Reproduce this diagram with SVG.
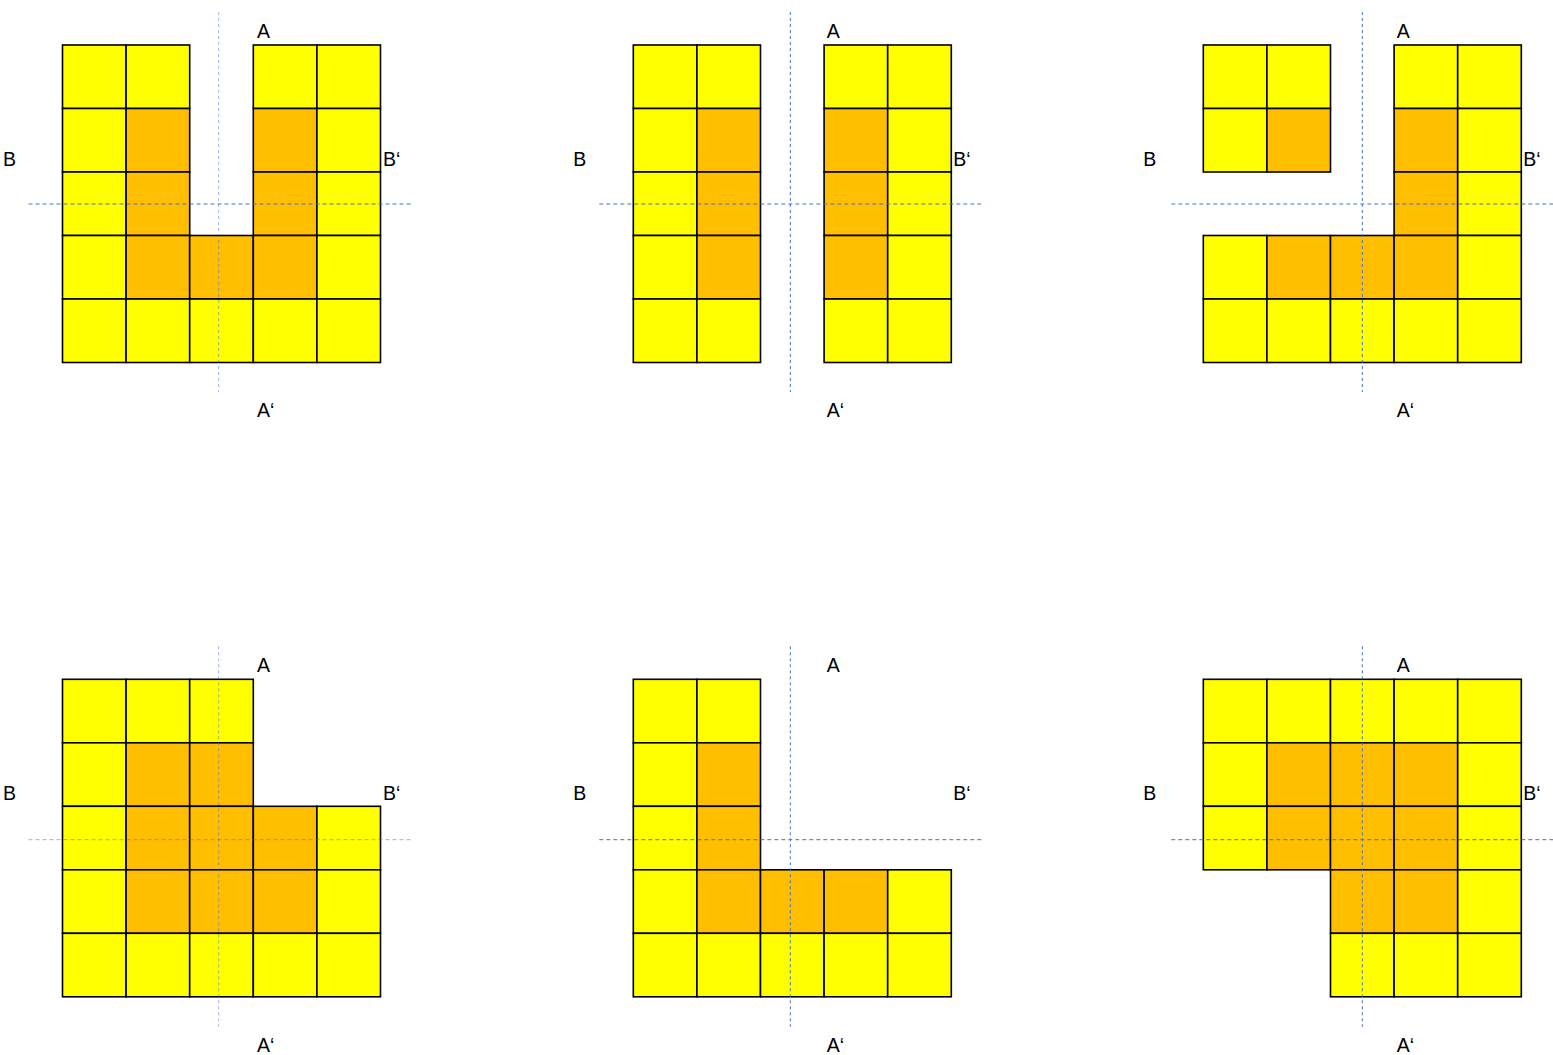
<svg xmlns="http://www.w3.org/2000/svg" width="1553" height="1055" viewBox="0 0 1553 1055">
<style>
.y{fill:#FFFF00;stroke:#000;stroke-width:1.6}
.o{fill:#FFBF00;stroke:#000;stroke-width:1.6}
.t{font-family:"Liberation Sans",Arial,sans-serif;font-size:19.5px;fill:#000}
.dv{stroke:#4472C4;stroke-width:1;stroke-dasharray:3 3;fill:none}
.dh{stroke:#4472C4;stroke-width:1;stroke-dasharray:4 3;fill:none}
.f{opacity:0.55}
</style>
<rect width="1553" height="1055" fill="#fff"/>

<g id="panel1" transform="translate(62.5,45)">
<rect class="y" x="0" y="0" width="63.6" height="63.5"/>
<rect class="y" x="63.6" y="0" width="63.6" height="63.5"/>
<rect class="y" x="190.8" y="0" width="63.6" height="63.5"/>
<rect class="y" x="254.4" y="0" width="63.6" height="63.5"/>
<rect class="y" x="0" y="63.5" width="63.6" height="63.5"/>
<rect class="o" x="63.6" y="63.5" width="63.6" height="63.5"/>
<rect class="o" x="190.8" y="63.5" width="63.6" height="63.5"/>
<rect class="y" x="254.4" y="63.5" width="63.6" height="63.5"/>
<rect class="y" x="0" y="127" width="63.6" height="63.5"/>
<rect class="o" x="63.6" y="127" width="63.6" height="63.5"/>
<rect class="o" x="190.8" y="127" width="63.6" height="63.5"/>
<rect class="y" x="254.4" y="127" width="63.6" height="63.5"/>
<rect class="y" x="0" y="190.5" width="63.6" height="63.5"/>
<rect class="o" x="63.6" y="190.5" width="63.6" height="63.5"/>
<rect class="o" x="127.2" y="190.5" width="63.6" height="63.5"/>
<rect class="o" x="190.8" y="190.5" width="63.6" height="63.5"/>
<rect class="y" x="254.4" y="190.5" width="63.6" height="63.5"/>
<rect class="y" x="0" y="254" width="63.6" height="63.5"/>
<rect class="y" x="63.6" y="254" width="63.6" height="63.5"/>
<rect class="y" x="127.2" y="254" width="63.6" height="63.5"/>
<rect class="y" x="190.8" y="254" width="63.6" height="63.5"/>
<rect class="y" x="254.4" y="254" width="63.6" height="63.5"/>
<line class="dv f" x1="156.2" y1="-33" x2="156.2" y2="347"/>
<line class="dh" x1="-34" y1="159" x2="351" y2="159"/>
<text class="t" x="194.5" y="-7">A</text>
<text class="t" x="194.5" y="372">A‘</text>
<text class="t" x="-59.5" y="121">B</text>
<text class="t" x="320.5" y="121">B‘</text>
</g>

<g id="panel2" transform="translate(633.3,45)">
<rect class="y" x="0" y="0" width="63.6" height="63.5"/>
<rect class="y" x="63.6" y="0" width="63.6" height="63.5"/>
<rect class="y" x="190.8" y="0" width="63.6" height="63.5"/>
<rect class="y" x="254.4" y="0" width="63.6" height="63.5"/>
<rect class="y" x="0" y="63.5" width="63.6" height="63.5"/>
<rect class="o" x="63.6" y="63.5" width="63.6" height="63.5"/>
<rect class="o" x="190.8" y="63.5" width="63.6" height="63.5"/>
<rect class="y" x="254.4" y="63.5" width="63.6" height="63.5"/>
<rect class="y" x="0" y="127" width="63.6" height="63.5"/>
<rect class="o" x="63.6" y="127" width="63.6" height="63.5"/>
<rect class="o" x="190.8" y="127" width="63.6" height="63.5"/>
<rect class="y" x="254.4" y="127" width="63.6" height="63.5"/>
<rect class="y" x="0" y="190.5" width="63.6" height="63.5"/>
<rect class="o" x="63.6" y="190.5" width="63.6" height="63.5"/>
<rect class="o" x="190.8" y="190.5" width="63.6" height="63.5"/>
<rect class="y" x="254.4" y="190.5" width="63.6" height="63.5"/>
<rect class="y" x="0" y="254" width="63.6" height="63.5"/>
<rect class="y" x="63.6" y="254" width="63.6" height="63.5"/>
<rect class="y" x="190.8" y="254" width="63.6" height="63.5"/>
<rect class="y" x="254.4" y="254" width="63.6" height="63.5"/>
<line class="dv" x1="157" y1="-33" x2="157" y2="347"/>
<line class="dh" x1="-34" y1="159" x2="351" y2="159"/>
<text class="t" x="193.5" y="-7">A</text>
<text class="t" x="193.5" y="372">A‘</text>
<text class="t" x="-60" y="121">B</text>
<text class="t" x="320" y="121">B‘</text>
</g>

<g id="panel3" transform="translate(1203.3,45)">
<rect class="y" x="0" y="0" width="63.6" height="63.5"/>
<rect class="y" x="63.6" y="0" width="63.6" height="63.5"/>
<rect class="y" x="190.8" y="0" width="63.6" height="63.5"/>
<rect class="y" x="254.4" y="0" width="63.6" height="63.5"/>
<rect class="y" x="0" y="63.5" width="63.6" height="63.5"/>
<rect class="o" x="63.6" y="63.5" width="63.6" height="63.5"/>
<rect class="o" x="190.8" y="63.5" width="63.6" height="63.5"/>
<rect class="y" x="254.4" y="63.5" width="63.6" height="63.5"/>
<rect class="o" x="190.8" y="127" width="63.6" height="63.5"/>
<rect class="y" x="254.4" y="127" width="63.6" height="63.5"/>
<rect class="y" x="0" y="190.5" width="63.6" height="63.5"/>
<rect class="o" x="63.6" y="190.5" width="63.6" height="63.5"/>
<rect class="o" x="127.2" y="190.5" width="63.6" height="63.5"/>
<rect class="o" x="190.8" y="190.5" width="63.6" height="63.5"/>
<rect class="y" x="254.4" y="190.5" width="63.6" height="63.5"/>
<rect class="y" x="0" y="254" width="63.6" height="63.5"/>
<rect class="y" x="63.6" y="254" width="63.6" height="63.5"/>
<rect class="y" x="127.2" y="254" width="63.6" height="63.5"/>
<rect class="y" x="190.8" y="254" width="63.6" height="63.5"/>
<rect class="y" x="254.4" y="254" width="63.6" height="63.5"/>
<line class="dv" x1="159" y1="-33" x2="159" y2="347"/>
<line class="dh" x1="-32" y1="159" x2="352" y2="159"/>
<text class="t" x="193.5" y="-7">A</text>
<text class="t" x="193.5" y="372">A‘</text>
<text class="t" x="-60" y="121">B</text>
<text class="t" x="320" y="121">B‘</text>
</g>

<g id="panel4" transform="translate(62.5,679.3)">
<rect class="y" x="0" y="0" width="63.6" height="63.5"/>
<rect class="y" x="63.6" y="0" width="63.6" height="63.5"/>
<rect class="y" x="127.2" y="0" width="63.6" height="63.5"/>
<rect class="y" x="0" y="63.5" width="63.6" height="63.5"/>
<rect class="o" x="63.6" y="63.5" width="63.6" height="63.5"/>
<rect class="o" x="127.2" y="63.5" width="63.6" height="63.5"/>
<rect class="y" x="0" y="127" width="63.6" height="63.5"/>
<rect class="o" x="63.6" y="127" width="63.6" height="63.5"/>
<rect class="o" x="127.2" y="127" width="63.6" height="63.5"/>
<rect class="o" x="190.8" y="127" width="63.6" height="63.5"/>
<rect class="y" x="254.4" y="127" width="63.6" height="63.5"/>
<rect class="y" x="0" y="190.5" width="63.6" height="63.5"/>
<rect class="o" x="63.6" y="190.5" width="63.6" height="63.5"/>
<rect class="o" x="127.2" y="190.5" width="63.6" height="63.5"/>
<rect class="o" x="190.8" y="190.5" width="63.6" height="63.5"/>
<rect class="y" x="254.4" y="190.5" width="63.6" height="63.5"/>
<rect class="y" x="0" y="254" width="63.6" height="63.5"/>
<rect class="y" x="63.6" y="254" width="63.6" height="63.5"/>
<rect class="y" x="127.2" y="254" width="63.6" height="63.5"/>
<rect class="y" x="190.8" y="254" width="63.6" height="63.5"/>
<rect class="y" x="254.4" y="254" width="63.6" height="63.5"/>
<line class="dv f" x1="156.2" y1="-33" x2="156.2" y2="347.5"/>
<line class="dh f" x1="-34" y1="160.4" x2="351" y2="160.4"/>
<text class="t" x="194.5" y="-7.3">A</text>
<text class="t" x="194.5" y="372.5">A‘</text>
<text class="t" x="-59.5" y="120.7">B</text>
<text class="t" x="320.5" y="120.7">B‘</text>
</g>

<g id="panel5" transform="translate(633.3,679.3)">
<rect class="y" x="0" y="0" width="63.6" height="63.5"/>
<rect class="y" x="63.6" y="0" width="63.6" height="63.5"/>
<rect class="y" x="0" y="63.5" width="63.6" height="63.5"/>
<rect class="o" x="63.6" y="63.5" width="63.6" height="63.5"/>
<rect class="y" x="0" y="127" width="63.6" height="63.5"/>
<rect class="o" x="63.6" y="127" width="63.6" height="63.5"/>
<rect class="y" x="0" y="190.5" width="63.6" height="63.5"/>
<rect class="o" x="63.6" y="190.5" width="63.6" height="63.5"/>
<rect class="o" x="127.2" y="190.5" width="63.6" height="63.5"/>
<rect class="o" x="190.8" y="190.5" width="63.6" height="63.5"/>
<rect class="y" x="254.4" y="190.5" width="63.6" height="63.5"/>
<rect class="y" x="0" y="254" width="63.6" height="63.5"/>
<rect class="y" x="63.6" y="254" width="63.6" height="63.5"/>
<rect class="y" x="127.2" y="254" width="63.6" height="63.5"/>
<rect class="y" x="190.8" y="254" width="63.6" height="63.5"/>
<rect class="y" x="254.4" y="254" width="63.6" height="63.5"/>
<line class="dv" x1="157" y1="-33" x2="157" y2="347.5"/>
<line class="dh" x1="-34" y1="160.4" x2="351" y2="160.4"/>
<text class="t" x="193.5" y="-7.3">A</text>
<text class="t" x="193.5" y="372.5">A‘</text>
<text class="t" x="-60" y="120.7">B</text>
<text class="t" x="320" y="120.7">B‘</text>
</g>

<g id="panel6" transform="translate(1203.3,679.3)">
<rect class="y" x="0" y="0" width="63.6" height="63.5"/>
<rect class="y" x="63.6" y="0" width="63.6" height="63.5"/>
<rect class="y" x="127.2" y="0" width="63.6" height="63.5"/>
<rect class="y" x="190.8" y="0" width="63.6" height="63.5"/>
<rect class="y" x="254.4" y="0" width="63.6" height="63.5"/>
<rect class="y" x="0" y="63.5" width="63.6" height="63.5"/>
<rect class="o" x="63.6" y="63.5" width="63.6" height="63.5"/>
<rect class="o" x="127.2" y="63.5" width="63.6" height="63.5"/>
<rect class="o" x="190.8" y="63.5" width="63.6" height="63.5"/>
<rect class="y" x="254.4" y="63.5" width="63.6" height="63.5"/>
<rect class="y" x="0" y="127" width="63.6" height="63.5"/>
<rect class="o" x="63.6" y="127" width="63.6" height="63.5"/>
<rect class="o" x="127.2" y="127" width="63.6" height="63.5"/>
<rect class="o" x="190.8" y="127" width="63.6" height="63.5"/>
<rect class="y" x="254.4" y="127" width="63.6" height="63.5"/>
<rect class="o" x="127.2" y="190.5" width="63.6" height="63.5"/>
<rect class="o" x="190.8" y="190.5" width="63.6" height="63.5"/>
<rect class="y" x="254.4" y="190.5" width="63.6" height="63.5"/>
<rect class="y" x="127.2" y="254" width="63.6" height="63.5"/>
<rect class="y" x="190.8" y="254" width="63.6" height="63.5"/>
<rect class="y" x="254.4" y="254" width="63.6" height="63.5"/>
<line class="dv" x1="159" y1="-33" x2="159" y2="347.5"/>
<line class="dh" x1="-32" y1="160.4" x2="352" y2="160.4"/>
<text class="t" x="193.5" y="-7.3">A</text>
<text class="t" x="193.5" y="372.5">A‘</text>
<text class="t" x="-60" y="120.7">B</text>
<text class="t" x="320" y="120.7">B‘</text>
</g>
</svg>
